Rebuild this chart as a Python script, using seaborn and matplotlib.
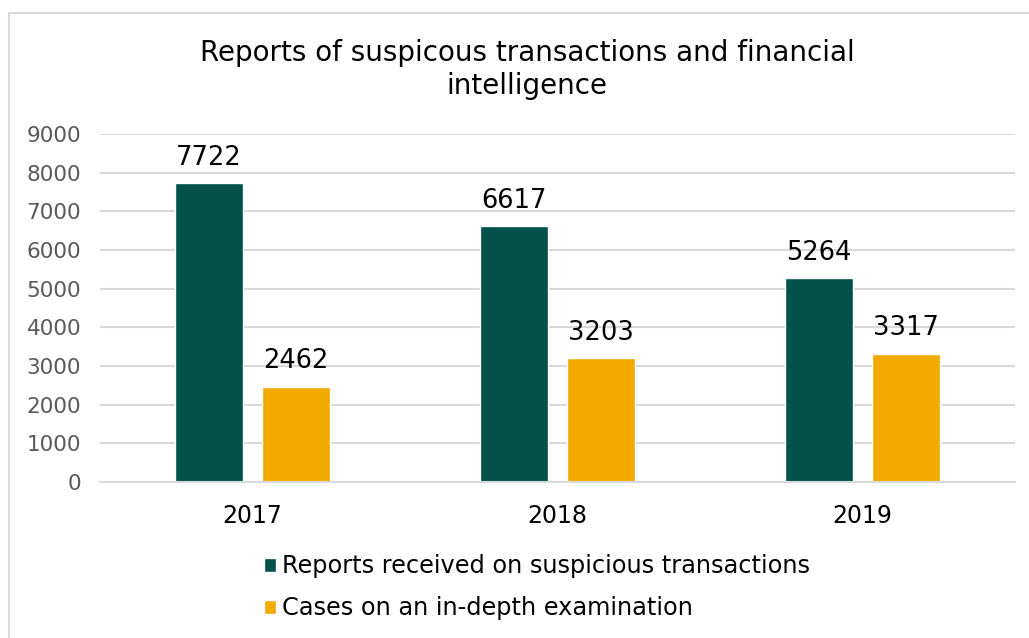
import matplotlib
matplotlib.use('Agg')
import matplotlib.pyplot as plt
from matplotlib.lines import Line2D
import seaborn as sns
import pandas as pd

years = ['2017', '2018', '2019']
reports_received = [7722, 6617, 5264]
cases_examined = [2462, 3203, 3317]
series_names = ['Reports received on suspicious transactions',
                'Cases on an in-depth examination']
colors = ['#02524B', '#F2A900']

df = pd.DataFrame({
    'year': years * 2,
    'value': reports_received + cases_examined,
    'series': [series_names[0]] * 3 + [series_names[1]] * 3,
})

sns.set_style('white')
plt.rcParams['font.family'] = ['DejaVu Sans']

fig = plt.figure(figsize=(10.29, 6.38), dpi=100)
ax = fig.add_axes([0.0972, 0.2445, 0.8892, 0.5455])

sns.barplot(data=df, x='year', y='value', hue='series', palette=colors,
            width=0.57, gap=0.22, saturation=1, ax=ax, legend=True)

for container in ax.containers:
    ax.bar_label(container, fmt='%d', padding=9, fontsize=18.5, color='black')

ax.set_ylim(0, 9000)
ax.set_xlim(-0.5, 2.5)
ax.set_yticks(range(0, 9001, 1000))
ax.yaxis.grid(True, color='#d9d9d9', linewidth=1.5)
ax.set_axisbelow(True)
for side in ['top', 'right', 'left']:
    ax.spines[side].set_visible(False)
ax.spines['bottom'].set_color('#d9d9d9')
ax.spines['bottom'].set_linewidth(1.5)
ax.tick_params(axis='y', labelsize=15.5, labelcolor='#595959', length=0, pad=13.5)
ax.tick_params(axis='x', labelsize=17, labelcolor='black', length=0, pad=16)
ax.set_xlabel('')
ax.set_ylabel('')

ax.set_title('Reports of suspicous transactions and financial\nintelligence',
             fontsize=20, color='black', pad=29, x=0.467)

handles, labels = ax.get_legend_handles_labels()
ax.legend(handles, labels, loc='upper left', bbox_to_anchor=(0.247, 0.146),
          bbox_transform=fig.transFigure, frameon=False, fontsize=17.3,
          handlelength=0.5, handleheight=0.5, handletextpad=0.25,
          labelspacing=0.75, borderaxespad=0, labelcolor='black')

# thin chart frame (left and top edges visible in the source crop)
fig.add_artist(Line2D([8.5 / 1029, 8.5 / 1029], [0, 1 - 13 / 638],
                      transform=fig.transFigure, color='#d9d9d9', linewidth=1.5))
fig.add_artist(Line2D([8.5 / 1029, 1], [1 - 13 / 638, 1 - 13 / 638],
                      transform=fig.transFigure, color='#d9d9d9', linewidth=1.5))

fig.savefig('out.png', dpi=100)
